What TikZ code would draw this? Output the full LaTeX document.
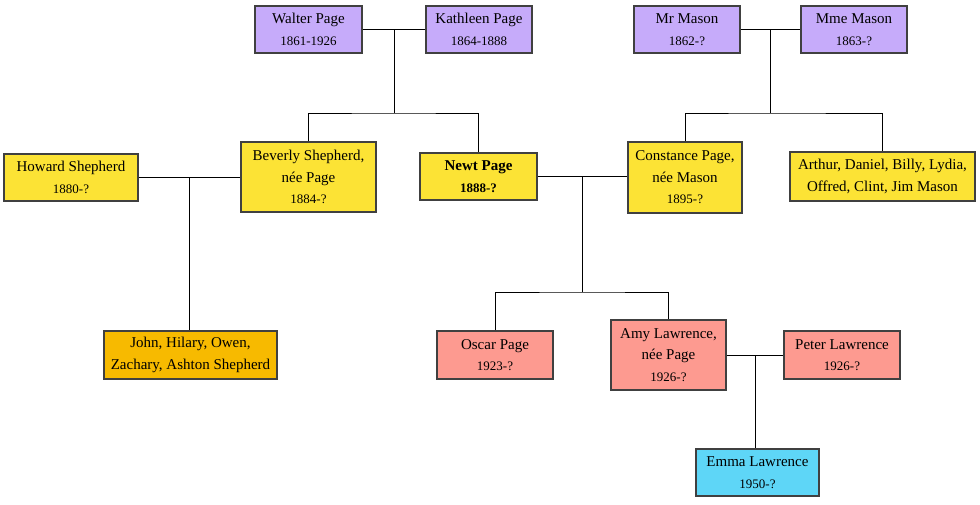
\documentclass[tikz,border=0pt]{standalone}
\usepackage{fontspec}
\setmainfont{Liberation Serif}
\usetikzlibrary{calc,shadows}
\definecolor{oldgen}{HTML}{C6ABFA}
\definecolor{midgen}{HTML}{FCE335}
\definecolor{kidgen}{HTML}{F7BA00}
\definecolor{youngen}{HTML}{FD9A90}
\definecolor{lastgen}{HTML}{5ED6F7}
\definecolor{ink}{HTML}{1E1E1E}
\newcommand{\yr}[1]{{\fontsize{13}{21.5}\selectfont #1}}

\begin{document}
\begin{tikzpicture}[
    x=1pt, y=-1pt,
    line join=miter,
    person/.style={draw=ink!85, line width=1.1pt, align=center, inner sep=2pt, text=black,
        font=\fontsize{15}{21.5}\selectfont, minimum height=47pt,
        drop shadow={shadow xshift=1.2pt, shadow yshift=-1.2pt, fill=black!30}},
    elder/.style={person, fill=oldgen},
    parent/.style={person, fill=midgen},
    child/.style={person, fill=kidgen},
    grandkid/.style={person, fill=youngen},
    baby/.style={person, fill=lastgen},
    link/.style={draw=black, line width=0.9pt}
]
\useasboundingbox (0,0) rectangle (980,505);

% Grandparents
\node[elder, minimum width=107pt] (walter) at (308.5,29.5) {Walter Page\\\yr{1861-1926}};
\node[elder, minimum width=106pt] (kathleen) at (479,29.5) {Kathleen Page\\\yr{1864-1888}};
\node[elder, minimum width=106pt] (mrmason) at (687,29.5) {Mr Mason\\\yr{1862-?}};
\node[elder, minimum width=106pt] (mmemason) at (854,29.5) {Mme Mason\\\yr{1863-?}};

% Parents
\node[parent, minimum width=134pt] (howard) at (71,177.5) {Howard Shepherd\\\yr{1880-?}};
\node[parent, minimum width=135pt, minimum height=70pt] (beverly) at (308.5,177) {Beverly Shepherd,\\n\'ee Page\\\yr{1884-?}};
\node[parent, minimum width=117pt, font=\fontsize{15}{21.5}\selectfont\bfseries] (newt) at (478.5,176.5) {Newt Page\\\yr{1888-?}};
\node[parent, minimum width=114pt, minimum height=71pt] (constance) at (685,177.5) {Constance Page,\\n\'ee Mason\\\yr{1895-?}};
\node[parent, minimum width=185pt, minimum height=49pt] (masonkids) at (882.5,176.5) {Arthur, Daniel, Billy, Lydia,\\Offred, Clint, Jim Mason};

% Children
\node[child, minimum width=173pt, minimum height=48pt] (shepherdkids) at (190.5,355) {John, Hilary, Owen,\\Zachary, Ashton Shepherd};
\node[grandkid, minimum width=116pt, minimum height=48pt] (oscar) at (495,355) {Oscar Page\\\yr{1923-?}};
\node[grandkid, minimum width=115pt, minimum height=70pt] (amy) at (668.5,355) {Amy Lawrence,\\n\'ee Page\\\yr{1926-?}};
\node[grandkid, minimum width=116pt, minimum height=48pt] (peter) at (842,355) {Peter Lawrence\\\yr{1926-?}};

% Grandchild
\node[baby, minimum width=123pt] (emma) at (757.5,472.5) {Emma Lawrence\\\yr{1950-?}};

% Couples
\draw[link] (walter) -- (kathleen);
\draw[link] (mrmason) -- (mmemason);
\draw[link] (howard.east) -- (beverly.west |- howard.east);
\draw[link] (newt.east) -- (constance.west |- newt.east);
\draw[link] (amy.east) -- (peter.west |- amy.east);

% Descent lines
\coordinate (pagemid) at ($(walter.east)!0.5!(kathleen.west)$);
\coordinate (pagebar) at (pagemid |- 0,113);
\draw[link] (pagemid) -- (pagebar);
\draw[link] (beverly.north) |- (pagebar) -| (newt.north);

\coordinate (masonmid) at ($(mrmason.east)!0.5!(mmemason.west)$);
\coordinate (masonbar) at (masonmid |- 0,113);
\draw[link] (masonmid) -- (masonbar);
\draw[link] (constance.north) |- (masonbar) -| (masonkids.north);

\coordinate (shepmid) at ($(howard.east)!0.5!(beverly.west |- howard.east)$);
\draw[link] (shepmid) -- (shepmid |- shepherdkids.north);

\coordinate (newtmid) at ($(newt.east)!0.5!(constance.west |- newt.east)$);
\coordinate (newtbar) at (newtmid |- 0,292);
\draw[link] (newtmid) -- (newtbar);
\draw[link] (oscar.north) |- (newtbar) -| (amy.north);

\coordinate (amymid) at ($(amy.east)!0.5!(peter.west |- amy.east)$);
\draw[link] (amymid) -- (amymid |- emma.north);

\end{tikzpicture}
\end{document}
